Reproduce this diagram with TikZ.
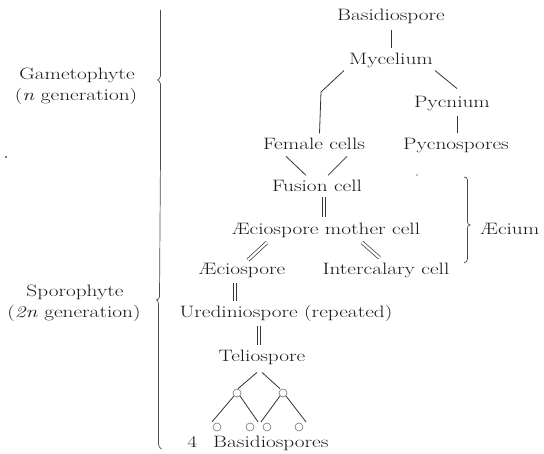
\documentclass[tikz,border=0pt]{standalone}
\usepackage{fontspec}
\usepackage{graphicx}
\usetikzlibrary{calc}
\newcommand{\sx}[1]{\scalebox{1.29}[1]{#1}}
\tikzset{
 lab/.style={anchor=base, inner sep=0pt, font=\fontsize{16.5}{19}\selectfont\addfontfeatures{FakeBold=0.8}, text=black!90},
 ln/.style={draw=black!80, line width=0.8pt},
 dbl/.style={draw=black!80, line width=0.7pt, double=white, double distance=2.3pt},
 spore/.style={circle, draw=black!55, line width=0.6pt, minimum size=8pt, inner sep=0pt},
 bracepath/.style={draw=black!70, line width=0.7pt},
}
\begin{document}
\begin{tikzpicture}[x=1pt,y=-1pt]
\useasboundingbox (0,0) rectangle (544,454);
% text nodes
\node[lab] (bas) at (391,21) {\sx{Basidiospore}};
\node[lab] (myc) at (391,65) {\sx{Mycelium}};
\node[lab] (pyc) at (452,108) {\sx{Pycnium}};
\node[lab] (fem) at (314,150) {\sx{Female cells}};
\node[lab] (pycs) at (456,150) {\sx{Pycnospores}};
\node[lab] (fus) at (317,192) {\sx{Fusion cell}};
\node[lab] (aem) at (326,235) {\sx{Æciospore mother cell}};
\node[lab] (aes) at (242,275) {\sx{Æciospore}};
\node[lab] (int) at (386,275) {\sx{Intercalary cell}};
\node[lab] (ure) at (286,318) {\sx{Urediniospore (repeated)}};
\node[lab] (tel) at (262,362) {\sx{Teliospore}};
\node[lab] (bsp) at (258,448) {\sx{4\hspace{0.75em}Basidiospores}};
\node[lab] (gam) at (77,80) {\sx{Gametophyte}};
\node[lab] (gamg) at (76,101) {\sx{(\textit{n} generation)}};
\node[lab] (spo) at (75,297) {\sx{Sporophyte}};
\node[lab] (spog) at (74,318) {\sx{(\textit{2n} generation)}};
\node[lab, anchor=base west] (aec) at (480,235) {\sx{Æcium}};
% spore circles
\node[spore] (c1) at (237,393) {};
\node[spore] (c2) at (283,393) {};
\node[spore] (b1) at (217,427) {};
\node[spore] (b2) at (250,427) {};
\node[spore] (b3) at (267,427) {};
\node[spore] (b4) at (299,427) {};
% connectors
\draw[ln] ([shift={(0.5,6)}]bas.south) -- ([shift={(0.5,-5)}]myc.north);
\coordinate (k1) at (321,92);
\draw[ln] ([shift={(-5,2)}]myc.south west) -- (k1) -- ($(k1 |- fem.north)+(-1.5,-5)$);
\draw[ln] ([shift={(2,2)}]myc.south east) -- ([shift={(5,-8)}]pyc.north);
\draw[ln] ([shift={(5.5,4)}]pyc.south) -- ([shift={(1.5,-6)}]pycs.north);
\draw[ln] ([shift={(-28,6)}]fem.south) -- ([shift={(-11,-5)}]fus.north);
\draw[ln] ([shift={(33,6)}]fem.south) -- ([shift={(11,-5)}]fus.north);
\draw[dbl] ([shift={(7,5)}]fus.south) -- ([shift={(-2,-6.5)}]aem.north);
\draw[dbl] ([shift={(-59,4)}]aem.south) -- ([shift={(6,-3.5)}]aes.north);
\draw[dbl] ([shift={(36,4)}]aem.south) -- ([shift={(-6.5,-5.5)}]int.north);
\draw[dbl] ([shift={(-7,5)}]aes.south) -- ([shift={(-51,-4.5)}]ure.north);
\draw[dbl] ([shift={(-27,4)}]ure.south) -- ([shift={(-3,-5.5)}]tel.north);
\draw[ln] ([shift={(-5,7)}]tel.south) -- ([shift={(1,0)}]c1.north);
\draw[ln] ([shift={(0,7)}]tel.south) -- ([shift={(-3,0)}]c2.north);
\draw[ln] (c1.south west) -- ([shift={(-2,-2)}]b1.north west);
\draw[ln] (c1.south east) -- ([shift={(5,-2)}]b2.north east);
\draw[ln] (c2.south west) -- ([shift={(-3,-2)}]b3.north west);
\draw[ln] (c2.south east) -- ([shift={(4,-2)}]b4.north east);
% braces
\draw[bracepath] (160.5,10) -- (160.5,76) .. controls (160.5,78) and (158.5,79.5) .. (157.5,80)
  .. controls (158.5,80.5) and (160.5,82) .. (160.5,84) -- (160.5,156) -- (159.5,297)
  .. controls (159.5,299) and (157.5,299.5) .. (156.5,300)
  .. controls (157.5,300.5) and (158.5,301.5) .. (158.5,304) -- (158.5,444)
  .. controls (158.5,446) and (159.5,448) .. (161.5,449);
\draw[bracepath] (464,177) .. controls (466,177) and (467.5,178) .. (467.5,180) -- (467.5,222)
  .. controls (467.5,224) and (468.5,224.5) .. (470,225)
  .. controls (468.5,225.5) and (467.5,226) .. (467.5,228) -- (467.5,259)
  .. controls (467.5,261) and (466,262) .. (464,263);
% stray marks
\fill[black!70] (6,157) circle (1.2);
\fill[black!50] (417,175) circle (0.8);
\end{tikzpicture}
\end{document}
